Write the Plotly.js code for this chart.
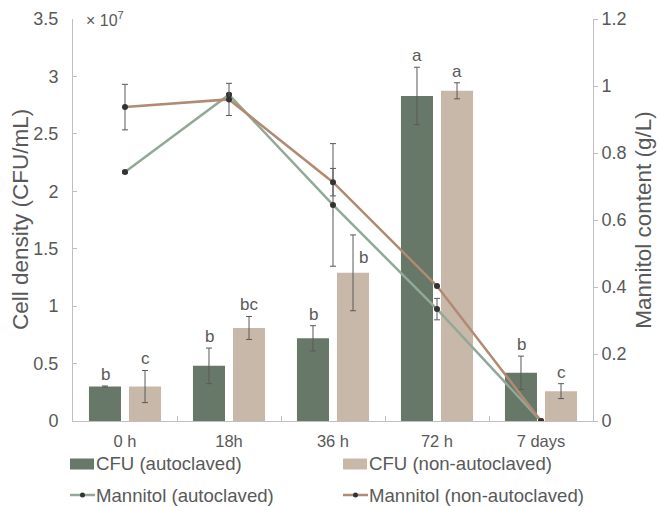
<!DOCTYPE html>
<html>
<head>
<meta charset="utf-8">
<script src="https://cdn.plot.ly/plotly-3.0.1.min.js"></script>
<style>html,body{margin:0;padding:0;background:#fff;}#chart{width:660px;height:507px;}</style>
</head>
<body>
<div id="chart"></div>
<script>
// Data (CFU in units of 10^7 CFU/mL, mannitol in g/L)
const categories = ['0 h', '18h', '36 h', '72 h', '7 days'];
const cfuAuto = [0.30, 0.48, 0.72, 2.83, 0.42];
const cfuAutoErr = [0.005, 0.155, 0.11, 0.25, 0.145];
const cfuNon = [0.30, 0.81, 1.29, 2.875, 0.26];
const cfuNonErr = [0.14, 0.10, 0.33, 0.07, 0.065];
const manAuto = [0.743, 0.974, 0.645, 0.334, 0];
const manAutoErr = [0.004, 0.004, 0.183, 0.032, 0];
const manNon = [0.937, 0.96, 0.713, 0.403, 0];
const manNonErr = [0.068, 0.048, 0.041, 0, 0];
const autoLetters = ['b', 'b', 'b', 'a', 'b'];
const nonLetters = ['c', 'bc', 'b', 'a', 'c'];
const seriesNames = ['CFU (autoclaved)', 'CFU (non-autoclaved)', 'Mannitol (autoclaved)', 'Mannitol (non-autoclaved)'];

const FONT = 'Liberation Sans, Arial, sans-serif';
const TXT = '#595959';
const AX = '#bfbfbf';
const ERR = '#595959';
const C_AUTO_BAR = '#687868', C_NON_BAR = '#c8b8aa';
const C_AUTO_LINE = '#93a998', C_NON_LINE = '#b08a72';

const traces = [
  {type: 'bar', name: seriesNames[0], x: categories, y: cfuAuto,
   marker: {color: C_AUTO_BAR},
   error_y: {type: 'data', array: cfuAutoErr, visible: true, color: ERR, thickness: 1, width: 3}},
  {type: 'bar', name: seriesNames[1], x: categories, y: cfuNon,
   marker: {color: C_NON_BAR},
   error_y: {type: 'data', array: cfuNonErr, visible: true, color: ERR, thickness: 1, width: 3}},
  {type: 'scatter', mode: 'lines+markers', name: seriesNames[2], x: categories, y: manAuto, yaxis: 'y2',
   line: {color: C_AUTO_LINE, width: 2.5}, marker: {color: '#333333', size: 6},
   error_y: {type: 'data', array: manAutoErr, visible: true, color: ERR, thickness: 1, width: 3}},
  {type: 'scatter', mode: 'lines+markers', name: seriesNames[3], x: categories, y: manNon, yaxis: 'y2',
   line: {color: C_NON_LINE, width: 2.5}, marker: {color: '#333333', size: 6},
   error_y: {type: 'data', array: manNonErr, visible: true, color: ERR, thickness: 1, width: 3}}
];

const annotations = [];
categories.forEach((c, i) => {
  annotations.push({x: c, y: cfuAuto[i] + cfuAutoErr[i], xref: 'x', yref: 'y', text: autoLetters[i],
    showarrow: false, xshift: -20, yanchor: 'bottom', yshift: 0, font: {family: FONT, size: 17, color: TXT}});
  const special = (i === 2);
  annotations.push({x: c, y: cfuNon[i] + cfuNonErr[i], xref: 'x', yref: 'y', text: nonLetters[i],
    showarrow: false, xshift: special ? 30 : 20, yanchor: special ? 'top' : 'bottom', yshift: special ? -11 : 0,
    font: {family: FONT, size: 17, color: TXT}});
});
annotations.push({xref: 'paper', yref: 'paper', x: 0.022, y: 1.0, xanchor: 'left', yanchor: 'middle',
  text: '× 10<sup>7</sup>', showarrow: false, font: {family: FONT, size: 16, color: TXT}});

// Custom legend (paper coordinates relative to plot area 520x402 px)
const PW = 520, PH = 402;
const px = v => v / PW, py = v => v / PH;
// left axis title placed precisely
annotations.push({xref: 'paper', yref: 'paper', x: -px(53), y: 0.5, xanchor: 'center', yanchor: 'middle',
  textangle: -90, text: 'Cell density (CFU/mL)', showarrow: false, font: {family: FONT, size: 22.5, color: TXT}});

const shapes = [];
const legRows = [-py(43), -py(74)];
const legCols = [-px(3), px(270)];
// bar swatches
[C_AUTO_BAR, C_NON_BAR].forEach((col, k) => {
  shapes.push({type: 'rect', xref: 'paper', yref: 'paper', x0: legCols[k], x1: legCols[k] + px(24),
    y0: legRows[0] - py(5.5), y1: legRows[0] + py(5.5), fillcolor: col, line: {width: 0}});
});
// line swatches
[C_AUTO_LINE, C_NON_LINE].forEach((col, k) => {
  shapes.push({type: 'line', xref: 'paper', yref: 'paper', x0: legCols[k], x1: legCols[k] + px(25),
    y0: legRows[1], y1: legRows[1], line: {color: col, width: 2.5}});
  shapes.push({type: 'circle', xref: 'paper', yref: 'paper', xsizemode: 'pixel', ysizemode: 'pixel',
    xanchor: legCols[k] + px(12.5), yanchor: legRows[1], x0: -2.5, x1: 2.5, y0: -2.5, y1: 2.5,
    fillcolor: '#333333', line: {width: 0}});
});
seriesNames.forEach((n, k) => {
  const row = k < 2 ? 0 : 1, col = k % 2;
  annotations.push({xref: 'paper', yref: 'paper', x: legCols[col] + px(24), y: legRows[row],
    xanchor: 'left', yanchor: 'middle', text: n, showarrow: false,
    font: {family: FONT, size: 18.6, color: TXT}});
});

const layout = {
  width: 660, height: 507,
  margin: {l: 73, r: 67, t: 19, b: 86},
  paper_bgcolor: '#ffffff', plot_bgcolor: '#ffffff',
  font: {family: FONT, color: TXT},
  barmode: 'group', bargap: 0.23, bargroupgap: 0.2,
  showlegend: false,
  xaxis: {type: 'category', showline: true, linecolor: AX, linewidth: 1,
    ticks: 'inside', tickson: 'boundaries', ticklen: 5, tickcolor: AX, ticklabelstandoff: 5,
    tickfont: {family: FONT, size: 16.5, color: TXT}, showgrid: false, zeroline: false},
  yaxis: {range: [0, 3.5], dtick: 0.5, showline: true, linecolor: AX, linewidth: 1,
    ticks: 'inside', ticklen: 4, tickcolor: AX, ticklabelstandoff: 10,
    tickfont: {family: FONT, size: 18, color: TXT}, showgrid: false, zeroline: false},
  yaxis2: {range: [0, 1.2], dtick: 0.2, overlaying: 'y', side: 'right', showline: true, linecolor: AX, linewidth: 1,
    ticks: 'outside', ticklen: 4, tickcolor: AX,
    tickfont: {family: FONT, size: 18, color: TXT}, showgrid: false, zeroline: false,
    title: {text: 'Mannitol content (g/L)', font: {family: FONT, size: 22.5, color: TXT}, standoff: 9}},
  shapes: shapes,
  annotations: annotations
};

Plotly.newPlot('chart', traces, layout, {displayModeBar: false, staticPlot: true});
</script>
</body>
</html>
